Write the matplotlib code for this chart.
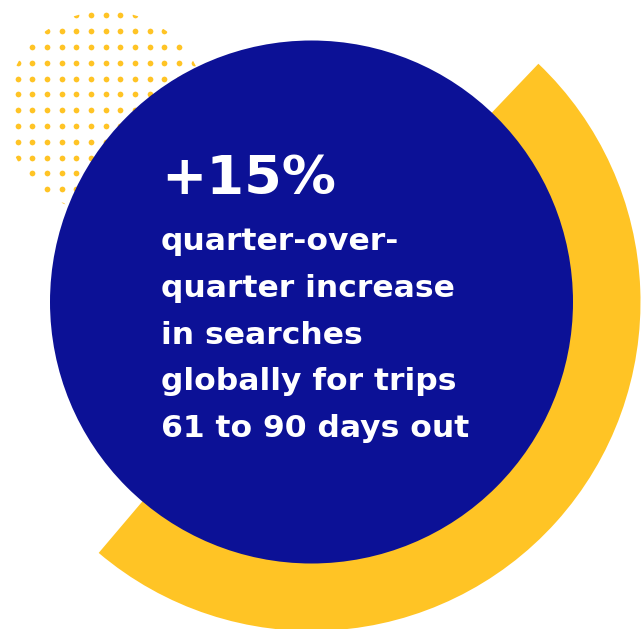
import numpy as np
import matplotlib
matplotlib.use("Agg")
import matplotlib.pyplot as plt
from matplotlib.patches import Circle, Wedge

# headline figure and description text
headline = "+15%"
desc_lines = ["quarter-over-",
              "quarter increase",
              "in searches",
              "globally for trips",
              "61 to 90 days out"]

BLUE = "#0c1196"
YELLOW = "#ffc425"

fig = plt.figure(figsize=(6.44, 6.29), dpi=100)
ax = fig.add_axes([0, 0, 1, 1])
ax.set_xlim(0, 644)
ax.set_ylim(629, 0)
ax.set_aspect("equal")
ax.axis("off")

# dotted halftone disc behind everything (top left)
dot_cx, dot_cy, dot_r = 106, 112, 101
gx, gy = np.meshgrid(np.arange(17.7, 200, 14.67), np.arange(15.3, 215, 15.8))
dots = ax.scatter(gx.ravel(), gy.ravel(), s=17, color=YELLOW, linewidths=0, zorder=1)
dots.set_clip_path(Circle((dot_cx, dot_cy), dot_r, transform=ax.transData))

# yellow arc and the big blue disc
cx, cy = 311.5, 302
ax.add_patch(Wedge((cx, cy), 329, -46.4, 130.3, width=128, color=YELLOW, lw=0, zorder=2))
ax.add_patch(Circle((cx, cy), 261.5, color=BLUE, lw=0, zorder=3))

# text
ax.text(161, 194, headline, color="white", fontsize=39, fontweight="bold",
        family="DejaVu Sans", va="baseline", ha="left", zorder=4)
for i, line in enumerate(desc_lines):
    ax.text(161, 250 + i * 46.8, line, color="white", fontsize=22.6, fontweight="bold",
            family="DejaVu Sans", va="baseline", ha="left", zorder=4)

fig.savefig("out.png", dpi=100)
